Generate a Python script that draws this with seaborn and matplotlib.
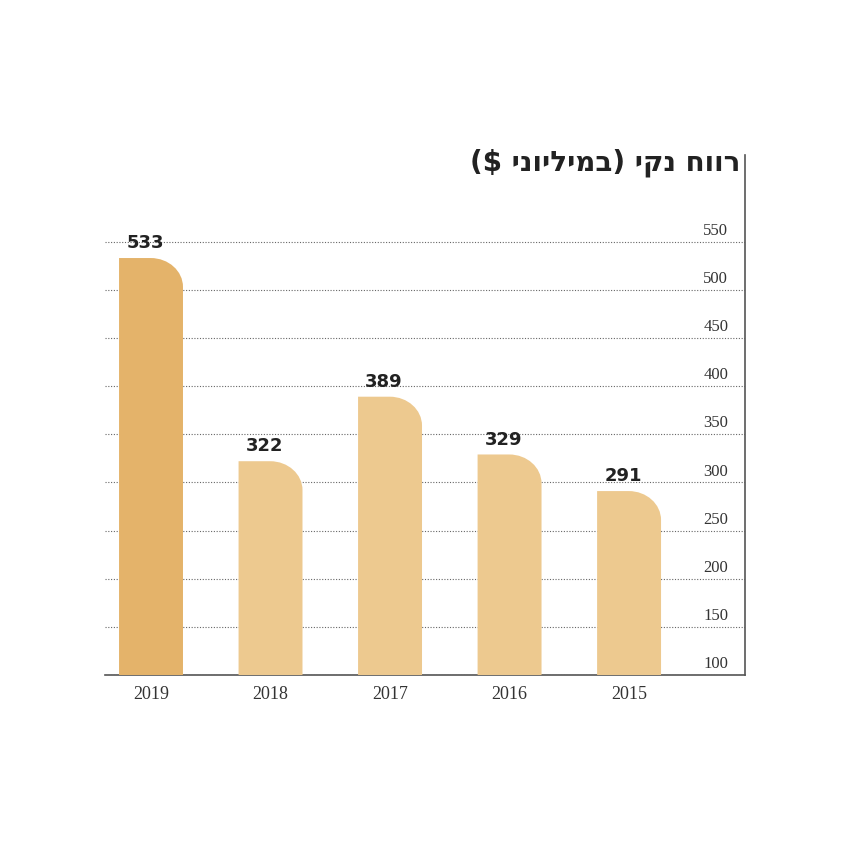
import matplotlib
matplotlib.use("Agg")
import matplotlib.pyplot as plt
import seaborn as sns
import pandas as pd
from matplotlib.path import Path
from matplotlib.patches import PathPatch

# Data
years = ["2019", "2018", "2017", "2016", "2015"]
profit = [533, 322, 389, 329, 291]
yticks = [100, 150, 200, 250, 300, 350, 400, 450, 500, 550]
title_logical = "רווח נקי (במיליוני $)"

colors = ["#E4B36A", "#EDC98F", "#EDC98F", "#EDC98F", "#EDC98F"]


def visual_rtl(s):
    # matplotlib has no bidi support: reverse and mirror the brackets
    mirror = {"(": ")", ")": "("}
    return "".join(mirror.get(c, c) for c in reversed(s))


sns.set_theme(style="white")
plt.rcParams["font.family"] = ["DejaVu Sans"]

fig = plt.figure(figsize=(8.5, 8.5), dpi=100)
ax = fig.add_axes([105 / 850, 175 / 850, 640 / 850, 520 / 850])

df = pd.DataFrame({"year": years, "profit": profit})
sns.barplot(data=df, x="year", y="profit", hue="year", palette=colors,
            legend=False, width=0.535, ax=ax, saturation=1)

ax.set_xlim(-0.385, 4.97)
ax.set_ylim(100, 640)

# replace rectangles by bars with a rounded top-right corner
rx, ry = 0.27, 30
for p, c in zip(ax.patches, colors):
    x0, y0, w, h = p.get_x(), p.get_y(), p.get_width(), p.get_height()
    x1, y1 = x0 + w, y0 + h
    k = 0.5523
    verts = [(x0, y0), (x0, y1), (x1 - rx, y1),
             (x1 - rx + k * rx, y1), (x1, y1 - ry + k * ry), (x1, y1 - ry),
             (x1, y0), (x0, y0)]
    codes = [Path.MOVETO, Path.LINETO, Path.LINETO,
             Path.CURVE4, Path.CURVE4, Path.CURVE4,
             Path.LINETO, Path.CLOSEPOLY]
    p.set_visible(False)
    ax.add_patch(PathPatch(Path(verts, codes), facecolor=c, edgecolor="none", zorder=3))
    ax.text(x0 + w / 2 - 0.05, y1 + 6, str(int(h + y0 - 100)) if False else str(int(y1)),
            ha="center", va="bottom", fontsize=13, fontweight="bold", color="#222222", zorder=4)

# dotted gridlines and tick labels inside the plot on the right
for t in yticks:
    ax.axhline(t, color="#666666", lw=0.8, ls=(0, (1, 1.5)), zorder=1)
    ax.text(4.83, t + 3, str(t), ha="right", va="bottom", fontsize=12,
            family="Liberation Serif", color="#333333")

ax.set_yticks([])
ax.set_xlabel("")
ax.set_ylabel("")
ax.tick_params(axis="x", length=0, pad=8)
for lbl in ax.get_xticklabels():
    lbl.set_fontfamily("Liberation Serif")
    lbl.set_fontsize(13)
    lbl.set_color("#333333")

for s in ["top", "left"]:
    ax.spines[s].set_visible(False)
for s in ["right", "bottom"]:
    ax.spines[s].set_color("#555555")
    ax.spines[s].set_linewidth(1.2)

fig.text(740 / 850, 1 - 163 / 850, visual_rtl(title_logical), ha="right", va="center",
         fontsize=20, fontweight="bold", color="#222222")

fig.savefig("out.png", dpi=100, facecolor="white")
